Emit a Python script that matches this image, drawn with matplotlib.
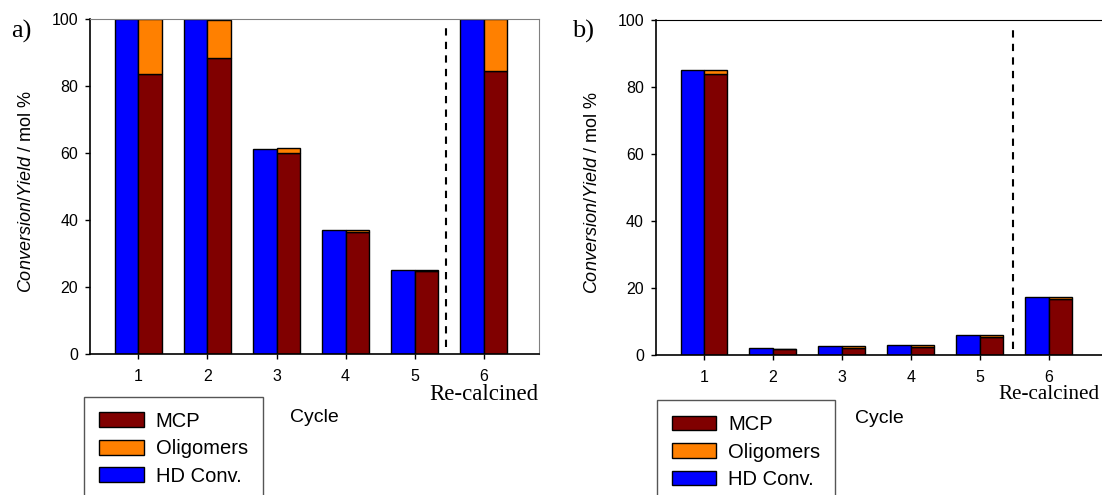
import numpy as np
import matplotlib
matplotlib.use('Agg')
import matplotlib.pyplot as plt
import matplotlib.transforms as mtransforms

plt.rcParams['font.family'] = ['Liberation Sans', 'DejaVu Sans']
plt.rcParams['mathtext.fontset'] = 'custom'
plt.rcParams['mathtext.it'] = 'Liberation Sans:italic'
plt.rcParams['mathtext.rm'] = 'Liberation Sans'

cycles = [1, 2, 3, 4, 5, 6]
tick_labels = ['1', '2', '3', '4', '5', '6']

# panel a
hd_conv_a = [100.0, 100.0, 61.2, 37.0, 25.2, 100.0]
mcp_a = [83.6, 88.4, 59.9, 36.3, 24.8, 84.6]
olig_a = [16.4, 11.2, 1.5, 0.7, 0.4, 15.4]

# panel b
hd_conv_b = [85.0, 2.1, 2.7, 3.0, 6.0, 17.4]
mcp_b = [83.9, 1.9, 2.3, 2.4, 5.5, 16.9]
olig_b = [1.1, 0.1, 0.4, 0.6, 0.5, 0.4]

BLUE = '#0000ff'
MAROON = '#800000'
ORANGE = '#ff8000'
W = 0.34


def draw_panel(ax, hd, mcp, olig):
    x = np.array(cycles, dtype=float)
    ax.bar(x - W / 2, hd, W, color=BLUE, edgecolor='black', lw=1, label='HD Conv.')
    ax.bar(x + W / 2, mcp, W, color=MAROON, edgecolor='black', lw=1, label='MCP')
    ax.bar(x + W / 2, olig, W, bottom=mcp, color=ORANGE, edgecolor='black', lw=1,
           label='Oligomers')
    ax.set_xlim(0.3, 6.8)
    ax.set_ylim(0, 100)
    ax.set_xticks(cycles)
    ax.set_xticklabels(tick_labels)
    ax.set_yticks([0, 20, 40, 60, 80, 100])
    ax.tick_params(direction='out', length=3.5, width=1, labelsize=11.5)
    ax.tick_params(axis='x', pad=7)
    ax.tick_params(axis='y', pad=5)
    ax.set_xlabel('Cycle', fontsize=14, labelpad=18)
    ax.set_ylabel(r'$\mathit{Conversion/Yield}$ / mol %', fontsize=13)
    ax.yaxis.set_label_coords(-0.122, 0.485)
    for s in ['left', 'bottom']:
        ax.spines[s].set_linewidth(1.2)


fig = plt.figure(figsize=(11.02, 4.95), dpi=100)
ax_a = fig.add_axes([90 / 1102, 141 / 495, 449 / 1102, 335 / 495])
ax_b = fig.add_axes([655.7 / 1102, 139.7 / 495, 448 / 1102, 335.3 / 495])

draw_panel(ax_a, hd_conv_a, mcp_a, olig_a)
draw_panel(ax_b, hd_conv_b, mcp_b, olig_b)

for s in ['top', 'right']:
    ax_a.spines[s].set_color('#808080')

ax_a.plot([5.45, 5.45], [2, 98], color='black', lw=1.5, linestyle=(0, (3.5, 3)))
ax_b.plot([5.48, 5.48], [2, 98], color='black', lw=1.5, linestyle=(0, (3.5, 3)))

for ax, yy, fs in [(ax_a, -0.12, 16.5), (ax_b, -0.116, 15.2)]:
    trans = mtransforms.blended_transform_factory(ax.transData, ax.transAxes)
    ax.text(6, yy, 'Re-calcined', transform=trans, ha='center', va='center',
            fontsize=fs, family='Liberation Serif')

fig.text(11 / 1102, 1 - 31 / 495, 'a)', fontsize=19, family='Liberation Serif',
         ha='left', va='center')
fig.text(572 / 1102, 1 - 31 / 495, 'b)', fontsize=19, family='Liberation Serif',
         ha='left', va='center')

for ax, lx, ly in [(ax_a, 84.3, 396.7), (ax_b, 656.7, 400)]:
    h, l = ax.get_legend_handles_labels()
    order = [1, 2, 0]
    leg = fig.legend([h[i] for i in order], [l[i] for i in order],
                     loc='upper left', bbox_to_anchor=(lx / 1102, 1 - ly / 495),
                     bbox_transform=fig.transFigure, fontsize=14.5, frameon=True,
                     fancybox=False, edgecolor='#555555', framealpha=1,
                     borderpad=0.75, labelspacing=0.42, handlelength=2.2,
                     handleheight=0.75, handletextpad=0.6, borderaxespad=0)
    leg.get_frame().set_linewidth(1)

fig.savefig('out.png', dpi=100)
